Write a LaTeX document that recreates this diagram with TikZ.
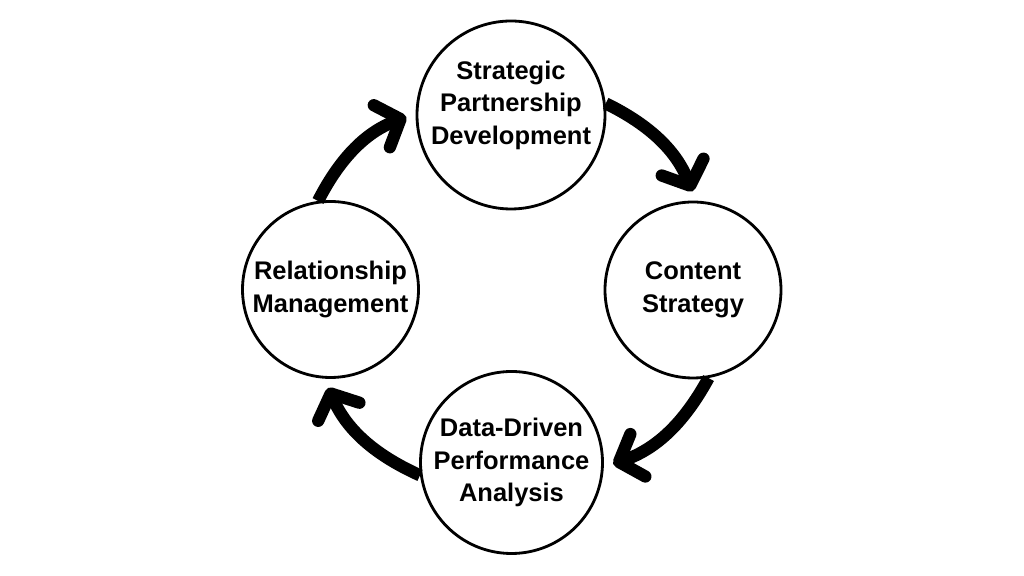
\documentclass[tikz,border=0pt]{standalone}
\usepackage{fontspec}
\setmainfont{Liberation Sans}
\usetikzlibrary{arrows.meta}

\tikzset{
  stage/.style={circle,draw,line width=1.6pt,fill=white,inner sep=0pt,
    align=center,font=\fontsize{14.5}{18.5}\selectfont\bfseries},
  stagetext/.style={align=center,inner sep=0pt,
    font=\fontsize{14.5}{18.5}\selectfont\bfseries},
  looparrow/.style={line width=7pt,shorten >=0.2cm,
    -{Straight Barb[length=0.4cm,width=0.9cm,round]}},
}

\begin{document}
\begin{tikzpicture}
    \useasboundingbox (0,0) rectangle (20.48,11.52);

    % the four stages
    \node[stage,minimum size=3.76cm] (sp) at (10.22,9.22) {};
    \node[stagetext] (sptext) at ([yshift=2mm]sp.center)
        {Strategic\\Partnership\\Development};
    \node[stage,minimum size=3.52cm] (cs) at (13.86,5.72)
        {Content\\Strategy};
    \node[stage,minimum size=3.64cm] (dd) at (10.23,2.27)
        {Data-Driven\\Performance\\Analysis};
    \node[stage,minimum size=3.52cm] (rm) at (6.61,5.73)
        {Relationship\\Management};

    % clockwise cycle
    \draw[looparrow] (sp.7)   to[bend left=21] (cs.88);
    \draw[looparrow] (cs.-80) to[bend left=21] (dd.-3);
    \draw[looparrow] (dd.188) to[bend left=21] (rm.266);
    \draw[looparrow] (rm.98)  to[bend left=21] (sp.179);
\end{tikzpicture}
\end{document}
